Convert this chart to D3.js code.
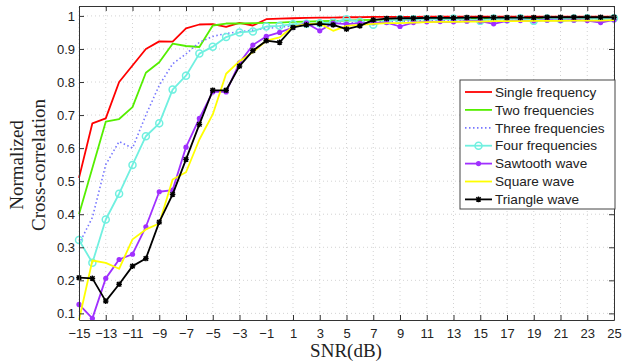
<!DOCTYPE html>
<html>
<head>
<meta charset="utf-8">
<script src="https://cdn.jsdelivr.net/npm/d3@7"></script>
<style>
  body { margin: 0; background: #fff; }
  svg { display: block; }
</style>
</head>
<body>
<div id="chart"></div>
<script>
// SNR values (dB)
const snr = d3.range(-15, 26, 1);

const single = [0.51, 0.675, 0.69, 0.80, 0.85, 0.90, 0.923, 0.922, 0.962, 0.974, 0.975, 0.967, 0.979, 0.971, 0.99, 0.992, 0.993, 0.994, 0.995, 0.995, 0.996, 0.996, 0.997, 0.997, 0.997, 0.997, 0.998, 0.998, 0.998, 0.998, 0.998, 0.998, 0.998, 0.998, 0.998, 0.998, 0.998, 0.998, 0.998, 0.998, 0.998];
const twoFreq = [0.40, 0.54, 0.68, 0.688, 0.724, 0.828, 0.86, 0.916, 0.909, 0.906, 0.971, 0.977, 0.977, 0.978, 0.979, 0.980, 0.982, 0.983, 0.984, 0.985, 0.986, 0.987, 0.988, 0.988, 0.989, 0.989, 0.99, 0.99, 0.991, 0.991, 0.992, 0.992, 0.992, 0.993, 0.993, 0.993, 0.994, 0.994, 0.994, 0.994, 0.995];
const threeFreq = [0.31, 0.39, 0.55, 0.62, 0.60, 0.70, 0.79, 0.855, 0.885, 0.92, 0.938, 0.947, 0.952, 0.957, 0.962, 0.966, 0.97, 0.972, 0.975, 0.977, 0.979, 0.98, 0.982, 0.983, 0.984, 0.985, 0.986, 0.986, 0.987, 0.988, 0.988, 0.989, 0.989, 0.99, 0.99, 0.99, 0.991, 0.991, 0.991, 0.992, 0.992];
const fourFreq = [0.322, 0.253, 0.384, 0.462, 0.549, 0.636, 0.675, 0.777, 0.819, 0.886, 0.907, 0.936, 0.95, 0.953, 0.968, 0.97, 0.975, 0.976, 0.978, 0.98, 0.99, 0.982, 0.973, 0.985, 0.99, 0.99, 0.991, 0.99, 0.992, 0.99, 0.985, 0.992, 0.99, 0.993, 0.985, 0.992, 0.99, 0.992, 0.993, 0.99, 0.993];
const sawtooth = [0.127, 0.085, 0.206, 0.263, 0.279, 0.362, 0.468, 0.473, 0.603, 0.69, 0.77, 0.77, 0.858, 0.912, 0.938, 0.95, 0.965, 0.978, 0.955, 0.978, 0.975, 0.978, 0.98, 0.98, 0.968, 0.98, 0.982, 0.983, 0.982, 0.984, 0.984, 0.976, 0.985, 0.986, 0.985, 0.987, 0.986, 0.987, 0.986, 0.98, 0.988];
const square = [0.08, 0.26, 0.253, 0.235, 0.324, 0.354, 0.372, 0.505, 0.527, 0.626, 0.702, 0.825, 0.863, 0.89, 0.925, 0.935, 0.967, 0.975, 0.977, 0.955, 0.97, 0.973, 0.976, 0.978, 0.978, 0.98, 0.981, 0.982, 0.982, 0.983, 0.983, 0.984, 0.984, 0.984, 0.985, 0.985, 0.985, 0.986, 0.986, 0.986, 0.987];
const triangle = [0.208, 0.206, 0.137, 0.188, 0.243, 0.266, 0.376, 0.46, 0.566, 0.672, 0.775, 0.775, 0.848, 0.895, 0.925, 0.92, 0.965, 0.973, 0.976, 0.973, 0.96, 0.97, 0.988, 0.992, 0.993, 0.993, 0.994, 0.994, 0.994, 0.995, 0.995, 0.995, 0.995, 0.995, 0.995, 0.996, 0.996, 0.996, 0.996, 0.996, 0.996];

const seriesNames = ["Single frequency", "Two frequencies", "Three frequencies", "Four frequencies", "Sawtooth wave", "Square wave", "Triangle wave"];
const seriesValues = [single, twoFreq, threeFreq, fourFreq, sawtooth, square, triangle];
const seriesColors = ["#ff0000", "#55ee00", "#7777ff", "#70f0e0", "#a030ff", "#ffff00", "#000000"];
const seriesMarkers = ["none", "none", "none", "circle", "dot", "none", "star"];

const xTicks = d3.range(-15, 26, 2);
const yTicks = [0.1, 0.2, 0.3, 0.4, 0.5, 0.6, 0.7, 0.8, 0.9, 1];

const W = 623, H = 362;
const m = { left: 79, right: 9, top: 6, bottom: 42 };

const svg = d3.select("#chart").append("svg").attr("width", W).attr("height", H);

const x = d3.scaleLinear().domain([-15, 25]).range([m.left, W - m.right]);
const y = d3.scaleLinear().domain([0.08, 1.03]).range([H - m.bottom, m.top]);

// grid
const grid = svg.append("g").attr("stroke", "#c8c8c8").attr("stroke-width", 0.8).attr("stroke-dasharray", "1,3");
grid.selectAll(".gx").data(xTicks).join("line")
  .attr("x1", d => x(d)).attr("x2", d => x(d)).attr("y1", y(0.08)).attr("y2", y(1.03));
grid.selectAll(".gy").data(yTicks).join("line")
  .attr("y1", d => y(d)).attr("y2", d => y(d)).attr("x1", x(-15)).attr("x2", x(25));

// series
const line = d3.line().x((d, i) => x(snr[i])).y(d => y(d));
const plot = svg.append("g");
seriesValues.forEach((vals, k) => {
  const p = plot.append("path").datum(vals)
    .attr("d", line).attr("fill", "none")
    .attr("stroke", seriesColors[k]).attr("stroke-width", 1.8)
    .attr("stroke-linejoin", "round");
  if (k === 2) p.attr("stroke-dasharray", "1.5,2.5").attr("stroke-width", 1.6);
  drawMarkers(plot, vals, k);
});

function drawMarkers(g, vals, k) {
  const type = seriesMarkers[k], c = seriesColors[k];
  if (type === "circle") {
    g.selectAll(null).data(vals).join("circle")
      .attr("cx", (d, i) => x(snr[i])).attr("cy", d => y(d)).attr("r", 3.5)
      .attr("fill", "none").attr("stroke", c).attr("stroke-width", 1.5);
  } else if (type === "dot") {
    g.selectAll(null).data(vals).join("circle")
      .attr("cx", (d, i) => x(snr[i])).attr("cy", d => y(d)).attr("r", 2.6)
      .attr("fill", c);
  } else if (type === "star") {
    g.selectAll(null).data(vals).join("path")
      .attr("transform", (d, i) => `translate(${x(snr[i])},${y(d)})`)
      .attr("d", "M-2.2,-2.2L2.2,2.2M-2.2,2.2L2.2,-2.2M0,-2.8L0,2.8M-2.8,0L2.8,0")
      .attr("stroke", c).attr("stroke-width", 1.4);
  }
}

// axes box with inward ticks
const fmtX = d => (d < 0 ? "\u2212" + Math.abs(d) : String(d));
const axB = svg.append("g").attr("transform", `translate(0,${y(0.08)})`)
  .call(d3.axisBottom(x).tickValues(xTicks).tickSizeInner(-5).tickSizeOuter(0).tickPadding(9).tickFormat(fmtX));
const axT = svg.append("g").attr("transform", `translate(0,${y(1.03)})`)
  .call(d3.axisTop(x).tickValues(xTicks).tickSizeInner(-5).tickSizeOuter(0).tickFormat(""));
const axL = svg.append("g").attr("transform", `translate(${x(-15)},0)`)
  .call(d3.axisLeft(y).tickValues(yTicks).tickSizeInner(-5).tickSizeOuter(0).tickPadding(4).tickFormat(d => d === 1 ? "1" : d3.format(".1f")(d)));
const axR = svg.append("g").attr("transform", `translate(${x(25)},0)`)
  .call(d3.axisRight(y).tickValues(yTicks).tickSizeInner(-5).tickSizeOuter(0).tickFormat(""));
[axB, axT, axL, axR].forEach(a => {
  a.select(".domain").attr("stroke", "#333").attr("stroke-width", 1);
  a.selectAll(".tick line").attr("stroke", "#333");
  a.selectAll("text").attr("font-family", "Liberation Sans, Arial, sans-serif").attr("font-size", 13).attr("fill", "#222");
});

// axis titles
svg.append("text").attr("x", 346).attr("y", 357).attr("text-anchor", "middle")
  .attr("font-family", "Liberation Serif, DejaVu Serif, serif").attr("font-size", 19).attr("fill", "#222")
  .text("SNR(dB)");
const yl = svg.append("g").attr("transform", "translate(0,165) rotate(-90)")
  .attr("font-family", "Liberation Serif, DejaVu Serif, serif").attr("font-size", 19).attr("fill", "#222")
  .attr("text-anchor", "middle");
yl.append("text").attr("x", 0).attr("y", 23).text("Normalized");
yl.append("text").attr("x", 0).attr("y", 45).text("Cross-correlation");

// legend
const lg = svg.append("g").attr("transform", "translate(460,80)");
lg.append("rect").attr("width", 155).attr("height", 129)
  .attr("fill", "#fff").attr("stroke", "#444").attr("stroke-width", 1);
seriesNames.forEach((name, k) => {
  const yy = 12 + k * 17.9;
  const row = lg.append("g").attr("transform", `translate(0,${yy})`);
  const l = row.append("line").attr("x1", 5).attr("x2", 32).attr("y1", 0).attr("y2", 0)
    .attr("stroke", seriesColors[k]).attr("stroke-width", 1.8);
  if (k === 2) l.attr("stroke-dasharray", "1.5,2.5");
  if (seriesMarkers[k] === "circle")
    row.append("circle").attr("cx", 18.5).attr("r", 3.5).attr("fill", "none").attr("stroke", seriesColors[k]).attr("stroke-width", 1.5);
  if (seriesMarkers[k] === "dot")
    row.append("circle").attr("cx", 18.5).attr("r", 2.6).attr("fill", seriesColors[k]);
  if (seriesMarkers[k] === "star")
    row.append("path").attr("transform", "translate(18.5,0)")
      .attr("d", "M-2.2,-2.2L2.2,2.2M-2.2,2.2L2.2,-2.2M0,-2.8L0,2.8M-2.8,0L2.8,0")
      .attr("stroke", seriesColors[k]).attr("stroke-width", 1.4);
  row.append("text").attr("x", 35).attr("y", 0).attr("dy", "0.35em")
    .attr("font-family", "Liberation Sans, Arial, sans-serif").attr("font-size", 13.6).attr("fill", "#222")
    .text(name);
});
</script>
</body>
</html>
